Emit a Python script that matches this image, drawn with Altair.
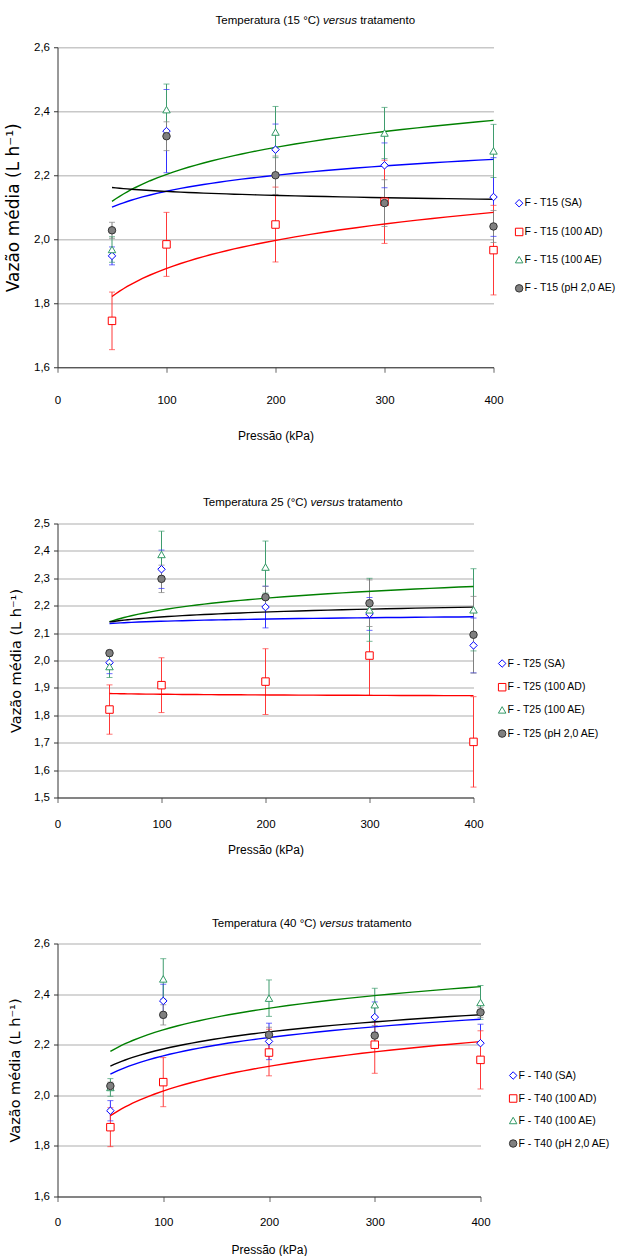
import altair as alt
import pandas as pd

# ---------------- data ----------------
pressures = [50, 100, 200, 300, 400]

t15_names = ["F - T15 (SA)", "F - T15 (100 AD)", "F - T15 (100 AE)", "F - T15 (pH 2,0 AE)"]
t15_sa = [1.948, 2.338, 2.280, 2.231, 2.132]
t15_sa_err = [0.028, 0.130, 0.080, 0.070, 0.123]
t15_ad = [1.745, 1.984, 2.046, 2.117, 1.966]
t15_ad_err = [0.090, 0.100, 0.117, 0.130, 0.140]
t15_ae = [1.968, 2.405, 2.335, 2.332, 2.276]
t15_ae_err = [0.040, 0.080, 0.080, 0.080, 0.083]
t15_ph = [2.028, 2.322, 2.200, 2.113, 2.040]
t15_ph_err = [0.025, 0.045, 0.060, 0.073, 0.050]

t25_names = ["F - T25 (SA)", "F - T25 (100 AD)", "F - T25 (100 AE)", "F - T25 (pH 2,0 AE)"]
t25_sa = [1.992, 2.333, 2.195, 2.170, 2.055]
t25_sa_err = [0.040, 0.070, 0.076, 0.060, 0.100]
t25_ad = [1.821, 1.910, 1.923, 2.018, 1.703]
t25_ad_err = [0.090, 0.100, 0.120, 0.145, 0.165]
t25_ae = [1.978, 2.387, 2.341, 2.185, 2.185]
t25_ae_err = [0.040, 0.085, 0.095, 0.115, 0.150]
t25_ph = [2.027, 2.298, 2.231, 2.209, 2.094]
t25_ph_err = [0.010, 0.050, 0.040, 0.085, 0.140]

t40_names = ["F - T40 (SA)", "F - T40 (100 AD)", "F - T40 (100 AE)", "F - T40 (pH 2,0 AE)"]
t40_sa = [1.939, 2.373, 2.213, 2.309, 2.206]
t40_sa_err = [0.040, 0.066, 0.072, 0.060, 0.075]
t40_ad = [1.874, 2.052, 2.169, 2.200, 2.140]
t40_ad_err = [0.077, 0.097, 0.092, 0.113, 0.115]
t40_ae = [2.031, 2.460, 2.384, 2.358, 2.367]
t40_ae_err = [0.035, 0.080, 0.072, 0.065, 0.067]
t40_ph = [2.037, 2.318, 2.239, 2.236, 2.328]
t40_ph_err = [0.015, 0.040, 0.030, 0.040, 0.020]

titles = [
    ("Temperatura (15 °C)", "versus", "tratamento"),
    ("Temperatura 25 (°C)", "versus", "tratamento"),
    ("Temperatura (40 °C)", "versus", "tratamento"),
]
x_ticks = [0, 100, 200, 300, 400]
y_ticks_15 = [1.6, 1.8, 2.0, 2.2, 2.4, 2.6]
y_ticks_25 = [1.5, 1.6, 1.7, 1.8, 1.9, 2.0, 2.1, 2.2, 2.3, 2.4, 2.5]
y_ticks_40 = [1.6, 1.8, 2.0, 2.2, 2.4, 2.6]

x_title = "Pressão (kPa)"
y_title = "Vazão média (L h⁻¹)"

# ---------------- styles ----------------
line_colors = ["#0000FF", "#FF0000", "#008000", "#000000"]
error_colors = ["#3030FF", "#FF3838", "#3F9C6E", "#808080"]
marker_strokes = ["#0000FF", "#FF0000", "#339966", "#333333"]
marker_fills = ["#FFFFFF", "#FFFFFF", "#FFFFFF", "#808080"]
marker_shapes = ["diamond", "square", "triangle-up", "circle"]

FONT = "Liberation Sans, Arial, sans-serif"
YT_FONT = "DejaVu Sans"
TITLE_FS = 11.5


def make_table(names, series_vals, series_errs):
    rows = []
    for i, (name, vals, errs) in enumerate(zip(names, series_vals, series_errs)):
        for x, y, e in zip(pressures, vals, errs):
            rows.append({"x": x, "y": y, "err": e, "series": name,
                         "lcolor": line_colors[i], "ecolor": error_colors[i]})
    return pd.DataFrame(rows)


def make_panel(names, series_vals, series_errs, title, width, height, ydom, yticks,
               title_y, versus_x, ytitle_x, ytitle_size, xlab_pad, xtitle_y,
               leg_x, leg_y, leg_pad, leg_fs):
    df = make_table(names, series_vals, series_errs)
    base = alt.Chart(df).transform_calculate(
        lo="datum.y - datum.err", hi="datum.y + datum.err")

    xaxis = alt.Axis(values=x_ticks, tickCount=20, title=x_title, grid=False,
                     labelFont=FONT, labelFontSize=11.5, labelColor="#000",
                     labelPadding=xlab_pad, labelFlush=False, labelOverlap=False,
                     tickSize=5, tickColor="#666", domainColor="#333",
                     titleFont=FONT, titleFontSize=12, titleFontWeight="normal",
                     titleColor="#000", titleX=width / 2, titleY=xtitle_y,
                     titleAlign="center", titleBaseline="middle")
    yaxis = alt.Axis(values=yticks, tickCount=20,
                     labelExpr="replace(format(datum.value, '.1f'), '.', ',')",
                     grid=True, gridColor="#C8C8C8", gridWidth=1.5,
                     labelFont=FONT, labelFontSize=11.5, labelColor="#000",
                     labelPadding=4, labelOverlap=False, labelFlush=False,
                     tickSize=4, tickColor="#333", domainColor="#333",
                     title=y_title, titleFont=YT_FONT, titleFontSize=ytitle_size,
                     titleFontWeight="normal", titleColor="#000",
                     titleX=ytitle_x, titleY=height / 2, titleAngle=270,
                     titleAlign="center", titleBaseline="middle")
    xscale = alt.Scale(domain=[0, 400], nice=False, zero=False)
    yscale = alt.Scale(domain=ydom, nice=False, zero=False)

    def X(field="x"):
        return alt.X(f"{field}:Q", scale=xscale, axis=xaxis)

    def Y(field):
        return alt.Y(f"{field}:Q", scale=yscale, axis=yaxis)

    rules = base.mark_rule(strokeWidth=1).encode(
        x=X(), y=Y("lo"), y2="hi:Q",
        color=alt.Color("ecolor:N", scale=None))
    cap_lo = base.mark_tick(orient="horizontal", size=6, thickness=1).encode(
        x=X(), y=Y("lo"), color=alt.Color("ecolor:N", scale=None))
    cap_hi = base.mark_tick(orient="horizontal", size=6, thickness=1).encode(
        x=X(), y=Y("hi"), color=alt.Color("ecolor:N", scale=None))

    trend = alt.Chart(df).transform_regression(
        "x", "y", method="log", groupby=["series", "lcolor"]
    ).mark_line(strokeWidth=1.4).encode(
        x=X(), y=Y("y"), detail="series:N",
        color=alt.Color("lcolor:N", scale=None))

    legend = alt.Legend(title=None, orient="none", legendX=leg_x, legendY=leg_y,
                        labelFont=FONT, labelFontSize=leg_fs, labelColor="#000",
                        symbolSize=56, symbolStrokeWidth=1, rowPadding=leg_pad,
                        labelOffset=0, padding=0)
    points = base.mark_point(filled=False, strokeWidth=1, opacity=1).encode(
        x=X(), y=Y("y"),
        shape=alt.Shape("series:N", sort=names,
                        scale=alt.Scale(domain=names, range=marker_shapes), legend=legend),
        stroke=alt.Stroke("series:N", sort=names,
                          scale=alt.Scale(domain=names, range=marker_strokes), legend=legend),
        fill=alt.Fill("series:N", sort=names,
                      scale=alt.Scale(domain=names, range=marker_fills), legend=legend),
        size=alt.value(56),
    )

    t_left, t_mid, t_right = title
    versus_w = 2.945 * TITLE_FS
    gap = 0.278 * TITLE_FS
    tl = alt.Chart(pd.DataFrame({"t": [t_left]})).mark_text(
        font=FONT, fontSize=TITLE_FS, align="right", baseline="middle", color="#000"
    ).encode(text="t:N", x=alt.value(versus_x - versus_w / 2 - gap), y=alt.value(title_y))
    tm = alt.Chart(pd.DataFrame({"t": [t_mid]})).mark_text(
        font=FONT, fontSize=TITLE_FS, fontStyle="italic", align="center",
        baseline="middle", color="#000"
    ).encode(text="t:N", x=alt.value(versus_x), y=alt.value(title_y))
    tr = alt.Chart(pd.DataFrame({"t": [t_right]})).mark_text(
        font=FONT, fontSize=TITLE_FS, align="left", baseline="middle", color="#000"
    ).encode(text="t:N", x=alt.value(versus_x + versus_w / 2 + gap), y=alt.value(title_y))

    return alt.layer(rules, cap_lo, cap_hi, trend, points, tl, tm, tr).properties(
        width=width, height=height)


p1 = make_panel(t15_names, [t15_sa, t15_ad, t15_ae, t15_ph],
                [t15_sa_err, t15_ad_err, t15_ae_err, t15_ph_err], titles[0],
                width=436, height=320, ydom=[1.6, 2.6], yticks=y_ticks_15,
                title_y=-26, versus_x=282.5, ytitle_x=-44, ytitle_size=17,
                xlab_pad=22, xtitle_y=68, leg_x=456.4, leg_y=150.75, leg_pad=16.7,
                leg_fs=10.5)
p2 = make_panel(t25_names, [t25_sa, t25_ad, t25_ae, t25_ph],
                [t25_sa_err, t25_ad_err, t25_ae_err, t25_ph_err], titles[1],
                width=416, height=274, ydom=[1.5, 2.5], yticks=y_ticks_25,
                title_y=-21, versus_x=270, ytitle_x=-41, ytitle_size=14.5,
                xlab_pad=16, xtitle_y=52, leg_x=439.4, leg_y=134.75, leg_pad=11.7,
                leg_fs=10.5)
p3 = make_panel(t40_names, [t40_sa, t40_ad, t40_ae, t40_ph],
                [t40_sa_err, t40_ad_err, t40_ae_err, t40_ph_err], titles[2],
                width=423, height=253, ydom=[1.6, 2.6], yticks=y_ticks_40,
                title_y=-20, versus_x=279, ytitle_x=-42, ytitle_size=14.5,
                xlab_pad=15, xtitle_y=53, leg_x=450.4, leg_y=126.75, leg_pad=11.0,
                leg_fs=10.5)

indep = dict(shape="independent", stroke="independent", fill="independent")
inner = alt.vconcat(p1, p2, spacing=55.25).resolve_scale(**indep).resolve_legend(**indep)
chart = alt.vconcat(inner, p3, spacing=61.25).resolve_scale(**indep).resolve_legend(**indep)
chart = chart.properties(
    padding={"left": 4.5, "top": 15.25, "right": 0, "bottom": 0},
    background="#FFFFFF",
).configure_view(stroke=None)

chart.save("out.html", embed_options={"renderer": "svg", "actions": False})
